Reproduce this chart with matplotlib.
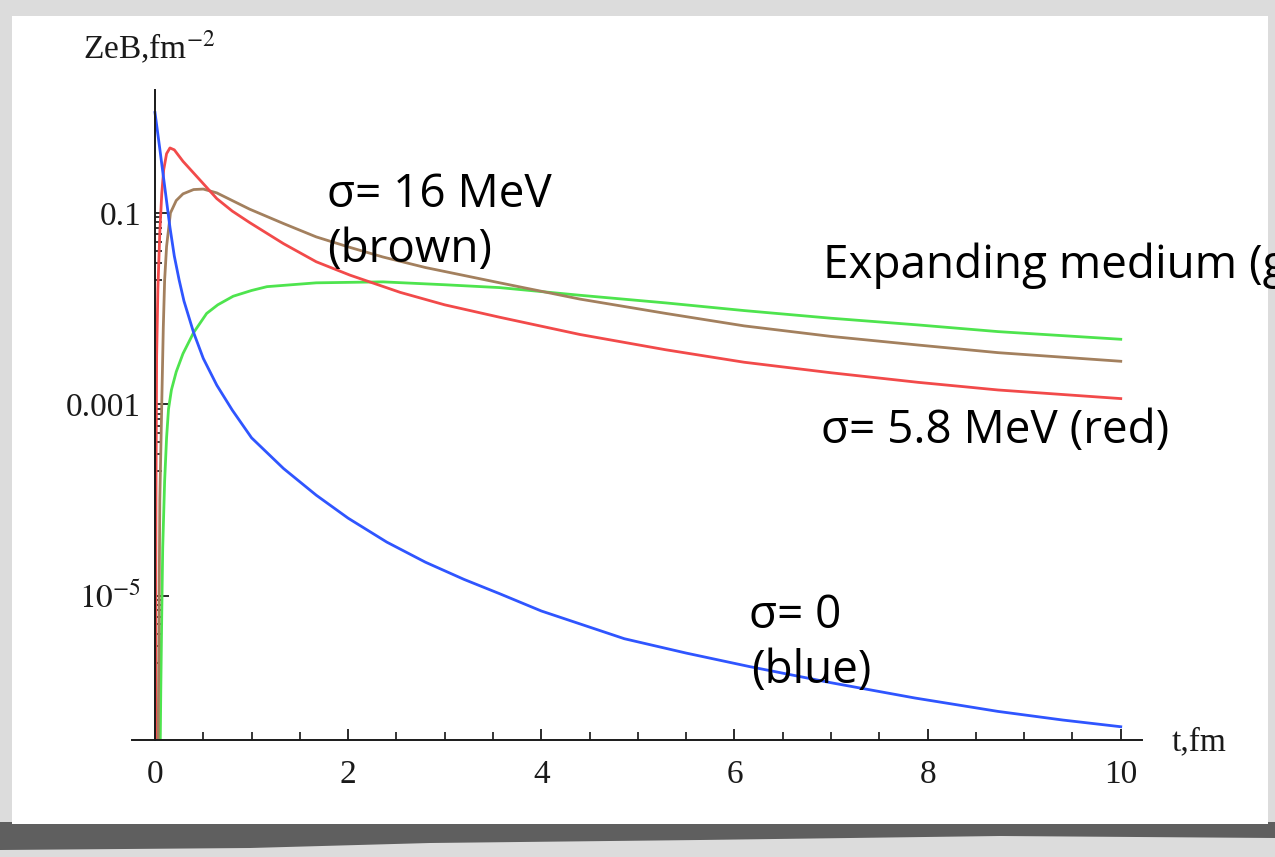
import numpy as np
import matplotlib
matplotlib.use("Agg")
import matplotlib.pyplot as plt
from matplotlib.patches import Rectangle, Polygon

plt.rcParams["mathtext.fontset"] = "stix"

# readings: t in fm, log10(ZeB / fm^-2)
blue_t = [0, 0.05, 0.1, 0.155, 0.2, 0.25, 0.3, 0.4, 0.5, 0.64, 0.8, 1.0,
          1.33, 1.67, 2.0, 2.4, 2.8, 3.2, 3.57, 4.0, 4.86, 5.5, 6.15, 7.0,
          7.87, 8.73, 9.4, 10]
blue_lg = [0.05, -0.33, -0.72, -1.15, -1.45, -1.7, -1.92, -2.25, -2.52, -2.8,
           -3.06, -3.35, -3.67, -3.95, -4.19, -4.44, -4.65, -4.83, -4.98,
           -5.16, -5.45, -5.6, -5.74, -5.91, -6.07, -6.21, -6.3, -6.37]

red_t = [0.005, 0.01, 0.017, 0.03, 0.05, 0.07, 0.09, 0.12, 0.155, 0.2, 0.29,
         0.47, 0.64, 0.8, 0.98, 1.33, 1.67, 2.02, 2.54, 3.0, 3.57, 4.4, 5.29,
         6.1, 7.0, 7.9, 8.73, 10]
red_lg = [-7.0, -4.0, -2.5, -1.8, -1.2, -0.8, -0.55, -0.38, -0.32, -0.34,
          -0.46, -0.66, -0.85, -0.98, -1.1, -1.32, -1.51, -1.65, -1.83, -1.96,
          -2.09, -2.27, -2.43, -2.56, -2.67, -2.77, -2.85, -2.94]

brown_t = [0.03, 0.04, 0.05, 0.07, 0.086, 0.1, 0.12, 0.16, 0.22, 0.29, 0.4,
           0.5, 0.64, 0.98, 1.33, 1.67, 2.02, 2.36, 2.8, 3.57, 4.4, 5.29, 6.1,
           7.0, 7.9, 8.73, 10]
brown_lg = [-7.0, -5.5, -4.0, -3.0, -2.2, -1.7, -1.35, -1.0, -0.87, -0.8,
            -0.755, -0.75, -0.79, -0.96, -1.11, -1.25, -1.36, -1.46, -1.57,
            -1.73, -1.9, -2.05, -2.18, -2.29, -2.38, -2.46, -2.55]

green_t = [0.05, 0.06, 0.07, 0.08, 0.1, 0.12, 0.14, 0.17, 0.22, 0.29, 0.4,
           0.535, 0.65, 0.81, 1.0, 1.16, 1.67, 2.36, 3.0, 3.57, 4.4, 5.29,
           6.1, 7.0, 7.9, 8.73, 10]
green_lg = [-7.0, -6.0, -5.2, -4.5, -3.8, -3.35, -3.05, -2.85, -2.66, -2.47,
            -2.25, -2.05, -1.96, -1.87, -1.81, -1.77, -1.73, -1.72, -1.75,
            -1.78, -1.86, -1.94, -2.02, -2.10, -2.17, -2.24, -2.32]

x_major = [0, 2, 4, 6, 8, 10]
y_major = [0.1, 1e-3, 1e-5]
y_labels = ["0.1", "0.001", "$10^{-5}$"]

W, H = 1275, 857
fig = plt.figure(figsize=(W / 100, H / 100), dpi=100)
fig.patch.set_facecolor("#dcdcdc")


def fx(px):
    return px / W


def fy(py):
    return 1 - py / H


# torn paper look: white sheet + dark shadow underneath
shadow = [(0, 822), (1275, 822), (1275, 838), (1000, 836), (700, 840),
          (430, 843), (250, 848), (0, 850)]
fig.add_artist(Polygon([(fx(a), fy(b)) for a, b in shadow], closed=True,
                       transform=fig.transFigure, facecolor="#5f5f5f",
                       edgecolor="none", zorder=0))
fig.add_artist(Rectangle((fx(12), fy(824)), fx(1268) - fx(12), fy(16) - fy(824),
                         transform=fig.transFigure, facecolor="white",
                         edgecolor="none", zorder=0))

ax = fig.add_axes([fx(132), fy(740), fx(1142) - fx(132), fy(90) - fy(740)])
ax.patch.set_alpha(0)
ax.set_yscale("log")
ax.set_xlim(-0.238, 10.22)
ax.set_ylim(3.1e-7, 1.93)

lw = 2.0
ax.plot(green_t, 10 ** np.array(green_lg), color="#4ee44e", lw=lw)
ax.plot(brown_t, 10 ** np.array(brown_lg), color="#a3805e", lw=lw)
ax.plot(red_t, 10 ** np.array(red_lg), color="#f24a4a", lw=lw)
ax.plot(blue_t, 10 ** np.array(blue_lg), color="#2f55ff", lw=lw)

for s in ["top", "right"]:
    ax.spines[s].set_visible(False)
ax.spines["left"].set_position(("data", 0))
for s in ["left", "bottom"]:
    ax.spines[s].set_linewidth(1.4)
    ax.spines[s].set_color("#1a1a1a")

serif = "Liberation Serif"
ax.set_xticks(x_major)
ax.set_xticklabels([str(v) for v in x_major], family=serif, fontsize=24)
ax.set_xticks([v / 2 for v in range(1, 21) if v % 4], minor=True)
ax.set_yticks(y_major)
ax.set_yticklabels(y_labels, family=serif, fontsize=24)
ax.set_yticks([m * y / 10 for y in y_major for m in range(2, 10)], minor=True)
ax.yaxis.set_minor_formatter(plt.NullFormatter())
ax.tick_params(axis="x", which="major", direction="in", length=8, width=1.3,
               pad=14, colors="#1a1a1a")
ax.tick_params(axis="x", which="minor", direction="in", length=6, width=1.1)
ax.tick_params(axis="y", which="major", direction="in", length=10, width=1.3,
               pad=10, colors="#1a1a1a")
ax.tick_params(axis="y", which="minor", direction="in", length=5, width=1.1)

fig.text(fx(83), fy(59), "ZeB,fm$^{-2}$", family=serif, fontsize=24,
         va="baseline", color="#1a1a1a")
fig.text(fx(1172), fy(750), "t,fm", family=serif, fontsize=24,
         va="baseline", color="#1a1a1a")

sans = "Open Sans"
notes = [(327, 207, "σ= 16 MeV"), (327, 262, "(brown)"),
         (823, 278, "Expanding medium (green)"),
         (821, 443, "σ= 5.8 MeV (red)"),
         (749, 628, "σ= 0"), (751, 683, "(blue)")]
for px, py, s in notes:
    fig.text(fx(px), fy(py), s, family=sans, fontsize=33, va="baseline",
             color="black")

fig.savefig("out.png", dpi=100, facecolor=fig.get_facecolor())
